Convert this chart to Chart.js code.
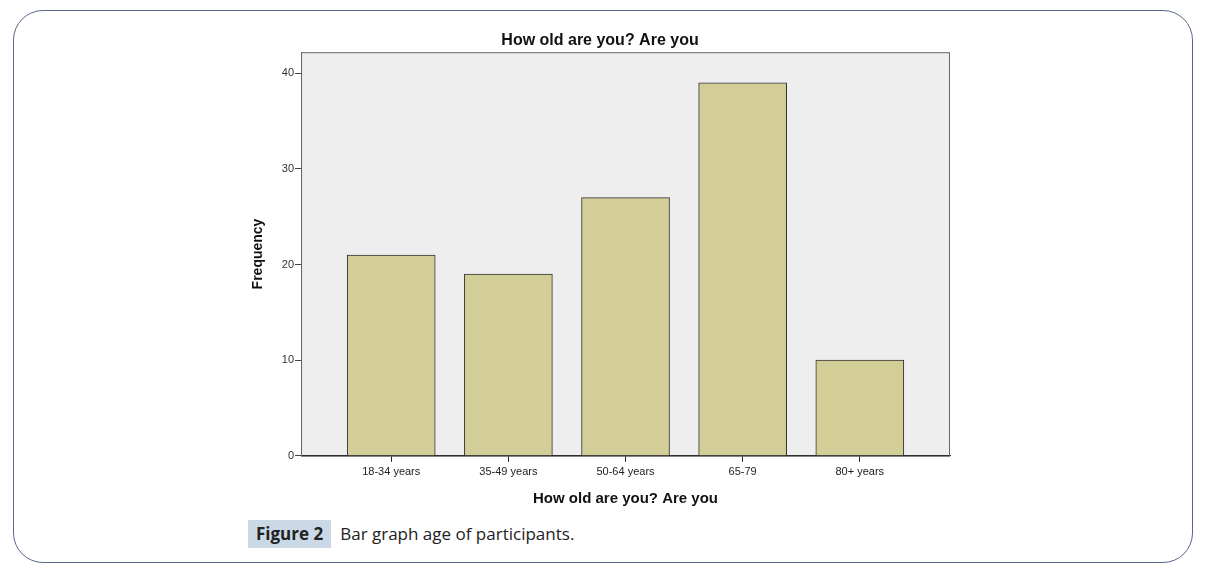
<!DOCTYPE html>
<html>
<head>
<meta charset="utf-8">
<script src="https://cdn.jsdelivr.net/npm/chart.js@4"></script>
<style>
  body { margin: 0; background: #fff; width: 1209px; height: 577px; position: relative; overflow: hidden; }
  .frame { position: absolute; left: 13px; top: 10px; width: 1178px; height: 551px; border: 1.5px solid #56658a; border-radius: 30px; }
  .wrap { position: absolute; left: 250px; top: 26px; width: 703px; height: 482px; }
  .caption { position: absolute; left: 248px; top: 520px; height: 28px; font-family: "Open Sans", "Liberation Sans", sans-serif; font-size: 17px; color: #222; }
  .caption .fig { display: inline-block; background: #cbd9e7; padding: 0 8px; height: 28px; line-height: 28px; font-weight: bold; }
  .caption .txt { margin-left: 9px; line-height: 28px; }
</style>
</head>
<body>
<div class="frame"></div>
<div class="wrap"><canvas id="ageChart"></canvas></div>
<div class="caption"><span class="fig">Figure 2</span><span class="txt">Bar graph age of participants.</span></div>
<script>
// values
const categories = ['18-34 years', '35-49 years', '50-64 years', '65-79', '80+ years'];
const frequencies = [21, 19, 27, 39, 10];
const yTicks = [0, 10, 20, 30, 40];

const chartTitle = 'How old are you? Are you';
const xTitle = 'How old are you? Are you';
const yTitle = 'Frequency';

// grey plot background with a box round it
const plotBox = {
    id: 'plotBox',
    beforeDraw(chart) {
        const a = chart.chartArea;
        const ctx = chart.ctx;
        ctx.save();
        ctx.fillStyle = '#eeeeee';
        ctx.fillRect(a.left, a.top, a.right - a.left, a.bottom - a.top);
        ctx.restore();
    },
    afterDatasetsDraw(chart) {
        const a = chart.chartArea;
        const ctx = chart.ctx;
        ctx.save();
        ctx.strokeStyle = '#666';
        ctx.lineWidth = 1;
        ctx.strokeRect(a.left + 0.5, a.top + 0.5, a.right - a.left - 1, a.bottom - a.top);
        ctx.restore();
    }
};

const FONT = '"Liberation Sans", Arial, sans-serif';

new Chart(document.getElementById('ageChart'), {
    type: 'bar',
    data: {
        datasets: [{
            data: frequencies.map((v, i) => ({ x: i, y: v })),
            backgroundColor: '#d3cd97',
            borderColor: '#333',
            borderWidth: 1,
            barThickness: 88
        }]
    },
    options: {
        responsive: true,
        maintainAspectRatio: false,
        animation: false,
        layout: { padding: { right: 3 } },
        plugins: {
            legend: { display: false },
            tooltip: { enabled: false },
            title: {
                display: true,
                text: chartTitle,
                color: '#111',
                font: { family: FONT, size: 16, weight: 'bold' },
                padding: { top: 5, bottom: 2 }
            }
        },
        scales: {
            x: {
                type: 'linear',
                offset: false,
                min: -0.77,
                max: categories.length - 1 + 0.77,
                afterBuildTicks: s => { s.ticks = categories.map((c, i) => ({ value: i })); },
                ticks: {
                    callback: v => categories[v],
                    color: '#222',
                    font: { family: FONT, size: 11 },
                    padding: 4,
                    maxRotation: 0
                },
                grid: { offset: false, drawOnChartArea: false, tickLength: 6, color: '#222' },
                border: { color: '#222' },
                title: {
                    display: true,
                    text: xTitle,
                    color: '#111',
                    font: { family: FONT, size: 15, weight: 'bold' },
                    padding: { top: 7, bottom: 0 }
                }
            },
            y: {
                min: 0,
                max: 42.2,
                afterBuildTicks: s => { s.ticks = yTicks.map(v => ({ value: v })); },
                ticks: {
                    color: '#333',
                    font: { family: FONT, size: 11 },
                    padding: 1
                },
                grid: { drawOnChartArea: false, tickLength: 6, color: '#444' },
                border: { color: '#666' },
                title: {
                    display: true,
                    text: yTitle,
                    color: '#111',
                    font: { family: FONT, size: 14, weight: 'bold' },
                    padding: { top: 0, bottom: 14 }
                }
            }
        }
    },
    plugins: [plotBox]
});
</script>
</body>
</html>
